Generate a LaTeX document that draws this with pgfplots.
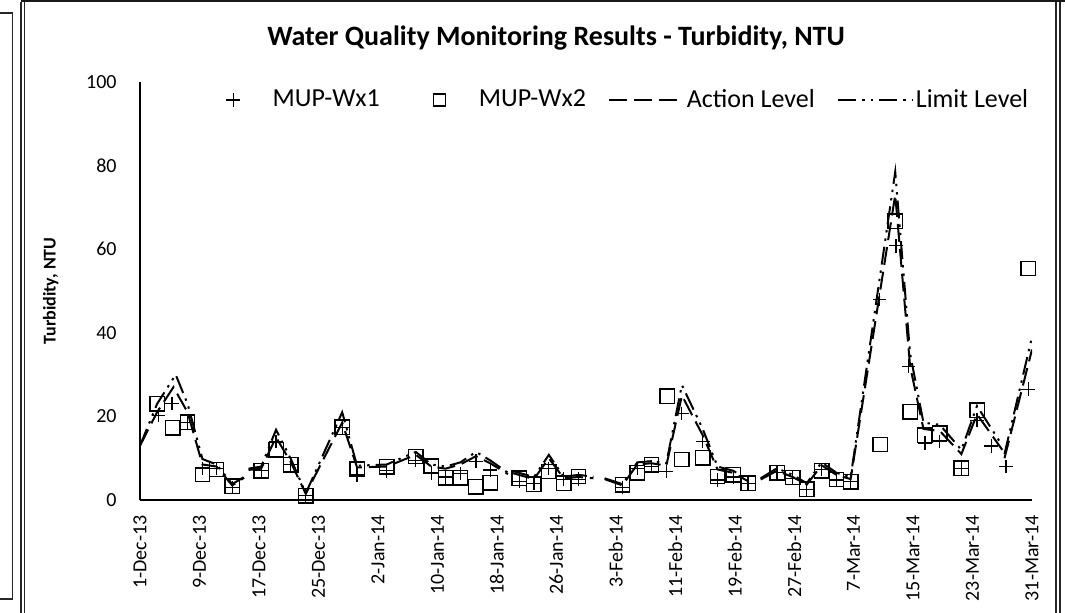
\documentclass[border=0pt]{standalone}
\usepackage{fontspec}
\setmainfont{Carlito}
\usepackage{pgfplots}
\pgfplotsset{compat=1.18}
\pgfplotsset{
  markleg/.style={legend image code/.code={\draw[##1, only marks] plot coordinates {(18.5pt,0pt)}; \path[draw=none,fill=none] (0pt,0pt) -- (37pt,0pt);}},
  sqleg/.style={legend image code/.code={\draw[##1, only marks, mark size=3pt] plot coordinates {(18.5pt,0pt)}; \path[draw=none,fill=none] (0pt,0pt) -- (37pt,0pt);}},
  lineleg/.style={legend image code/.code={\draw[##1] (0pt,0pt) -- (37pt,0pt);}},
}
\begin{document}
\begin{tikzpicture}
\useasboundingbox (-70pt,-56pt) rectangle (462.5pt,250pt);
% frames
\draw[line width=0.7pt, black!85] (-80pt,243.5pt) -- (-63.75pt,243.5pt) -- (-63.75pt,-49.5pt) -- (-80pt,-49.5pt);
\draw[line width=0.6pt, black!85] (-59.5pt,-60pt) -- (-59.5pt,249.2pt);
\draw[line width=0.6pt, black!85] (-57.6pt,-60pt) -- (-57.6pt,249.2pt);
\draw[line width=1pt, black!90] (-59.5pt,249.4pt) -- (462.5pt,249.4pt);
\draw[line width=0.6pt, black!85] (458pt,-60pt) -- (458pt,249.2pt);
\draw[line width=0.6pt, black!85] (460pt,-60pt) -- (460pt,249.2pt);
\node[font=\bfseries\fontsize{14}{16}\selectfont] at (208pt,231pt) {Water Quality Monitoring Results - Turbidity, NTU};
\begin{axis}[
  at={(0pt,0pt)}, anchor=south west,
  scale only axis, width=446pt, height=209pt,
  xmin=0, xmax=120, ymin=0, ymax=100,
  axis x line*=bottom, axis y line*=left,
  axis line style={-, line width=0.8pt},
  major tick length=0pt,
  xtick={0,8,...,120},
  xticklabels={1-Dec-13,9-Dec-13,17-Dec-13,25-Dec-13,2-Jan-14,10-Jan-14,18-Jan-14,26-Jan-14,3-Feb-14,11-Feb-14,19-Feb-14,27-Feb-14,7-Mar-14,15-Mar-14,23-Mar-14,31-Mar-14},
  ytick={0,20,...,100},
  tick label style={font=\fontsize{10}{12}\selectfont, inner sep=0pt},
  xticklabel style={rotate=90, anchor=east},
  xticklabel shift={7.5pt},
  yticklabel shift={11.5pt},
  /pgf/number format/assume math mode=true,
  ylabel={Turbidity, NTU},
  ylabel style={font=\bfseries\fontsize{9}{10.8}\selectfont, at={(axis description cs:-0.1,0.5)}, anchor=center},
  unbounded coords=jump,
  legend columns=4,
  legend style={draw=none, fill=none, at={(0.999,0.957)}, anchor=east,
    font=\fontsize{13}{15}\selectfont, inner sep=0pt,
    nodes={inner sep=1.25pt},
    /tikz/every even column/.append style={column sep=10pt}},
]
\addplot[only marks, mark=+, mark size=3.4pt, mark options={line width=0.6pt}, markleg]
coordinates {
(2.5,20.3) (4.3,23.1) (6.4,18.6) (8.4,7.5) (10.3,7.5) (12.4,3) (16.3,7) (18.3,14) (20.3,8.4) (22.3,1)
(27.2,17.4) (29.2,6) (33.2,7) (37.1,9.5) (39.2,6.5) (41.1,5.5) (43.1,6.3) (45.2,9.3) (47.1,7.2) (51,4.5)
(53,4) (55,7.5) (57,5) (59,5) (64.9,3) (66.9,7.5) (68.8,8) (70.8,6.8) (72.9,20.7) (75.7,14)
(77.7,4.8) (79.8,5.5) (81.8,4) (85.7,6.5) (87.8,5.2) (89.7,2.6) (91.7,7.3) (93.7,4.8) (95.6,4.4) (99.5,48)
(101.7,60.8) (103.4,32) (105.6,13.6) (107.6,14) (110.5,7.6) (112.6,19.1) (114.5,12.9) (116.5,8) (119.5,26.5)
};
\addlegendentry{MUP-Wx1}
\addplot[only marks, mark=square, mark size=3.6pt, mark options={line width=0.7pt}, sqleg]
coordinates {
(2.3,23) (4.4,17.3) (6.4,18.6) (8.4,6.1) (10.3,7.3) (12.4,3.3) (16.3,7) (18.3,12) (20.3,8.4) (22.3,1)
(27.2,17.4) (29.2,7.4) (33.2,7.9) (37.1,10.4) (39.2,8.1) (41.1,5.3) (43.1,5.3) (45.2,3.2) (47.1,4.1) (51,5.2)
(53,3.8) (55,6.8) (57,4) (59,5.6) (64.9,3.6) (66.9,6.5) (68.8,8.4) (70.9,24.8) (72.9,9.7) (75.7,10.1)
(77.7,5.6) (79.8,6) (81.8,4) (85.7,6.5) (87.8,5.4) (89.7,2.6) (91.7,7) (93.7,4.9) (95.6,4.4) (99.6,13.3)
(101.6,66.7) (103.6,21.1) (105.6,15.5) (107.6,16) (110.5,7.6) (112.6,21.5) (119.5,55.4)
};
\addlegendentry{MUP-Wx2}
\addplot[line width=1pt, dash pattern=on 9pt off 3.5pt, lineleg]
coordinates {
(0,13) (2.3,21) (4.5,27) (6.4,21) (8.4,8.5) (10.3,8) (12.4,3.5) (14,5.3) (14.3,nan)
(14.6,7.2) (16.3,7.5) (18.3,15) (20.3,9) (22.3,1.5) (27.2,18.5) (29.2,7.8) (33.2,8) (37.1,10.8) (39.2,8)
(41.1,7.5) (43.1,8.5) (45.2,10.5) (47.1,8.8) (49.5,6.2) (49.75,nan)
(50,6.5) (51,6) (53,5) (55,10) (57,5.2) (59,5.5) (61,5.2) (61.7,nan)
(62.5,5) (64.9,3.5) (66.9,8.5) (68.8,8.8) (70.8,8.2) (72.9,25) (75.7,15.5) (77.7,7.3) (79.8,6.5) (81.8,4.5) (82.6,nan)
(83.5,4.9) (85.7,7) (87.8,5.5) (89.7,3.7) (91.7,8.3) (93.7,6) (95.6,5) (101.6,73) (103.6,32) (105.4,17)
(107.6,16.5) (110.5,11) (112.6,20.5) (116,12) (116.15,nan)
(116.3,10) (120,36)
};
\addlegendentry{Action Level}
\addplot[line width=1pt, dash pattern=on 9pt off 3pt on 1.2pt off 3pt on 1.2pt off 3pt, lineleg]
coordinates {
(0,13) (2.3,23) (4.8,30) (6.4,23) (8.4,9.8) (10.3,8.5) (12.4,3.8) (14,5.5) (14.3,nan)
(14.6,7.5) (16.3,8) (18.3,16.8) (20.3,9.8) (22.3,1.6) (27.2,21) (29.2,8.2) (33.2,8.5) (37.1,11.5) (39.2,8.5)
(41.1,8) (43.1,9) (45.2,11.5) (47.1,9.5) (49.5,6.5) (49.75,nan)
(50,7) (51,6.5) (53,5.5) (55,10.8) (57,5.6) (59,6) (61,5.6) (61.7,nan)
(62.5,5.2) (64.9,3.8) (66.9,9) (68.8,9.3) (70.8,8.8) (72.9,27.5) (75.7,17) (77.7,8) (79.8,7) (81.8,4.8) (82.6,nan)
(83.5,5.2) (85.7,7.6) (87.8,6) (89.7,4) (91.7,9) (93.7,6.5) (95.6,5.4) (101.6,78.5) (103.6,35) (105.4,18.5)
(107.6,18) (110.5,12) (112.6,22.5) (116,13) (116.15,nan)
(116.3,11) (120,39)
};
\addlegendentry{Limit Level}
\end{axis}
\end{tikzpicture}
\end{document}
